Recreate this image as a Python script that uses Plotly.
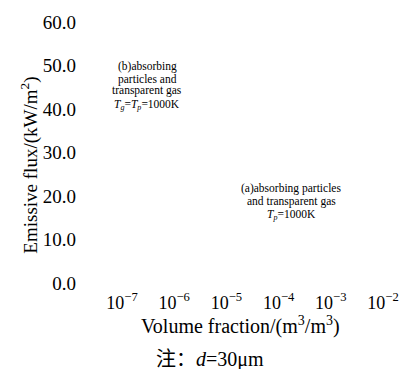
import plotly.graph_objects as go

# Axis definitions
x_tick_exponents = [-7, -6, -5, -4, -3, -2]
x_tick_values = [10.0 ** e for e in x_tick_exponents]
x_tick_labels = [f"10<sup>−{abs(e)}</sup>" for e in x_tick_exponents]
y_tick_values = [0, 10, 20, 30, 40, 50, 60]
y_tick_labels = [f"{v:.1f}" for v in y_tick_values]

# Series (no measured points are drawn in this panel)
volume_fraction = []
emissive_flux = []

# Case labels, one entry per line
case_b_lines = ["(b)absorbing", "particles and", "transparent gas",
                "<i>T<sub>g</sub></i>=<i>T<sub>p</sub></i>=1000K"]
case_a_lines = ["(a)absorbing particles", "and transparent gas",
                "<i>T<sub>p</sub></i>=1000K"]

SERIF = "Liberation Serif"
CJK = "Liberation Serif, Noto Sans CJK SC"

fig = go.Figure()
fig.add_trace(go.Scatter(x=volume_fraction, y=emissive_flux, mode="lines",
                         showlegend=False))

fig.update_layout(
    width=411, height=369,
    margin=dict(l=122, r=22, t=18, b=86),
    paper_bgcolor="white", plot_bgcolor="white",
    font=dict(family=SERIF, color="black", size=18),
    xaxis=dict(
        type="log", range=[-7, -2],
        tickmode="array", tickvals=x_tick_values, ticktext=x_tick_labels,
        showgrid=False, zeroline=False, showline=False, ticks="",
        tickfont=dict(size=18, family=SERIF), ticklabelstandoff=7,
    ),
    yaxis=dict(
        range=[0, 60],
        tickmode="array", tickvals=y_tick_values, ticktext=y_tick_labels,
        showgrid=False, zeroline=False, showline=False, ticks="",
        tickfont=dict(size=19, family=SERIF), ticklabelstandoff=45,
    ),
)

# Axis titles
fig.add_annotation(
    xref="paper", yref="paper", x=0.453, y=-0.163,
    text="Volume fraction/(m<sup>3</sup>/m<sup>3</sup>)",
    showarrow=False, font=dict(size=20, family=SERIF),
    xanchor="center", yanchor="middle",
)
fig.add_annotation(
    xref="paper", yref="paper", x=-0.356, y=0.450,
    text="Emissive flux/(kW/m<sup>2</sup>)", textangle=-90,
    showarrow=False, font=dict(size=19, family=SERIF),
    xanchor="center", yanchor="middle",
)

# Case labels
for text, yp in zip(case_b_lines, [0.830, 0.781, 0.736, 0.683]):
    fig.add_annotation(
        xref="paper", yref="paper", x=0.097, y=yp, text=text,
        showarrow=False, font=dict(size=11.5, family=SERIF),
        xanchor="center", yanchor="middle",
    )
for text, yp in zip(case_a_lines, [0.362, 0.313, 0.260]):
    fig.add_annotation(
        xref="paper", yref="paper", x=0.648, y=yp, text=text,
        showarrow=False, font=dict(size=11.5, family=SERIF),
        xanchor="center", yanchor="middle",
    )

# Footnote
fig.add_annotation(
    xref="paper", yref="paper", x=0.337, y=-0.295,
    text="注：<i>d</i>=30μm",
    showarrow=False, font=dict(size=20, family=CJK),
    xanchor="center", yanchor="middle",
)

fig.write_html("out.html")
